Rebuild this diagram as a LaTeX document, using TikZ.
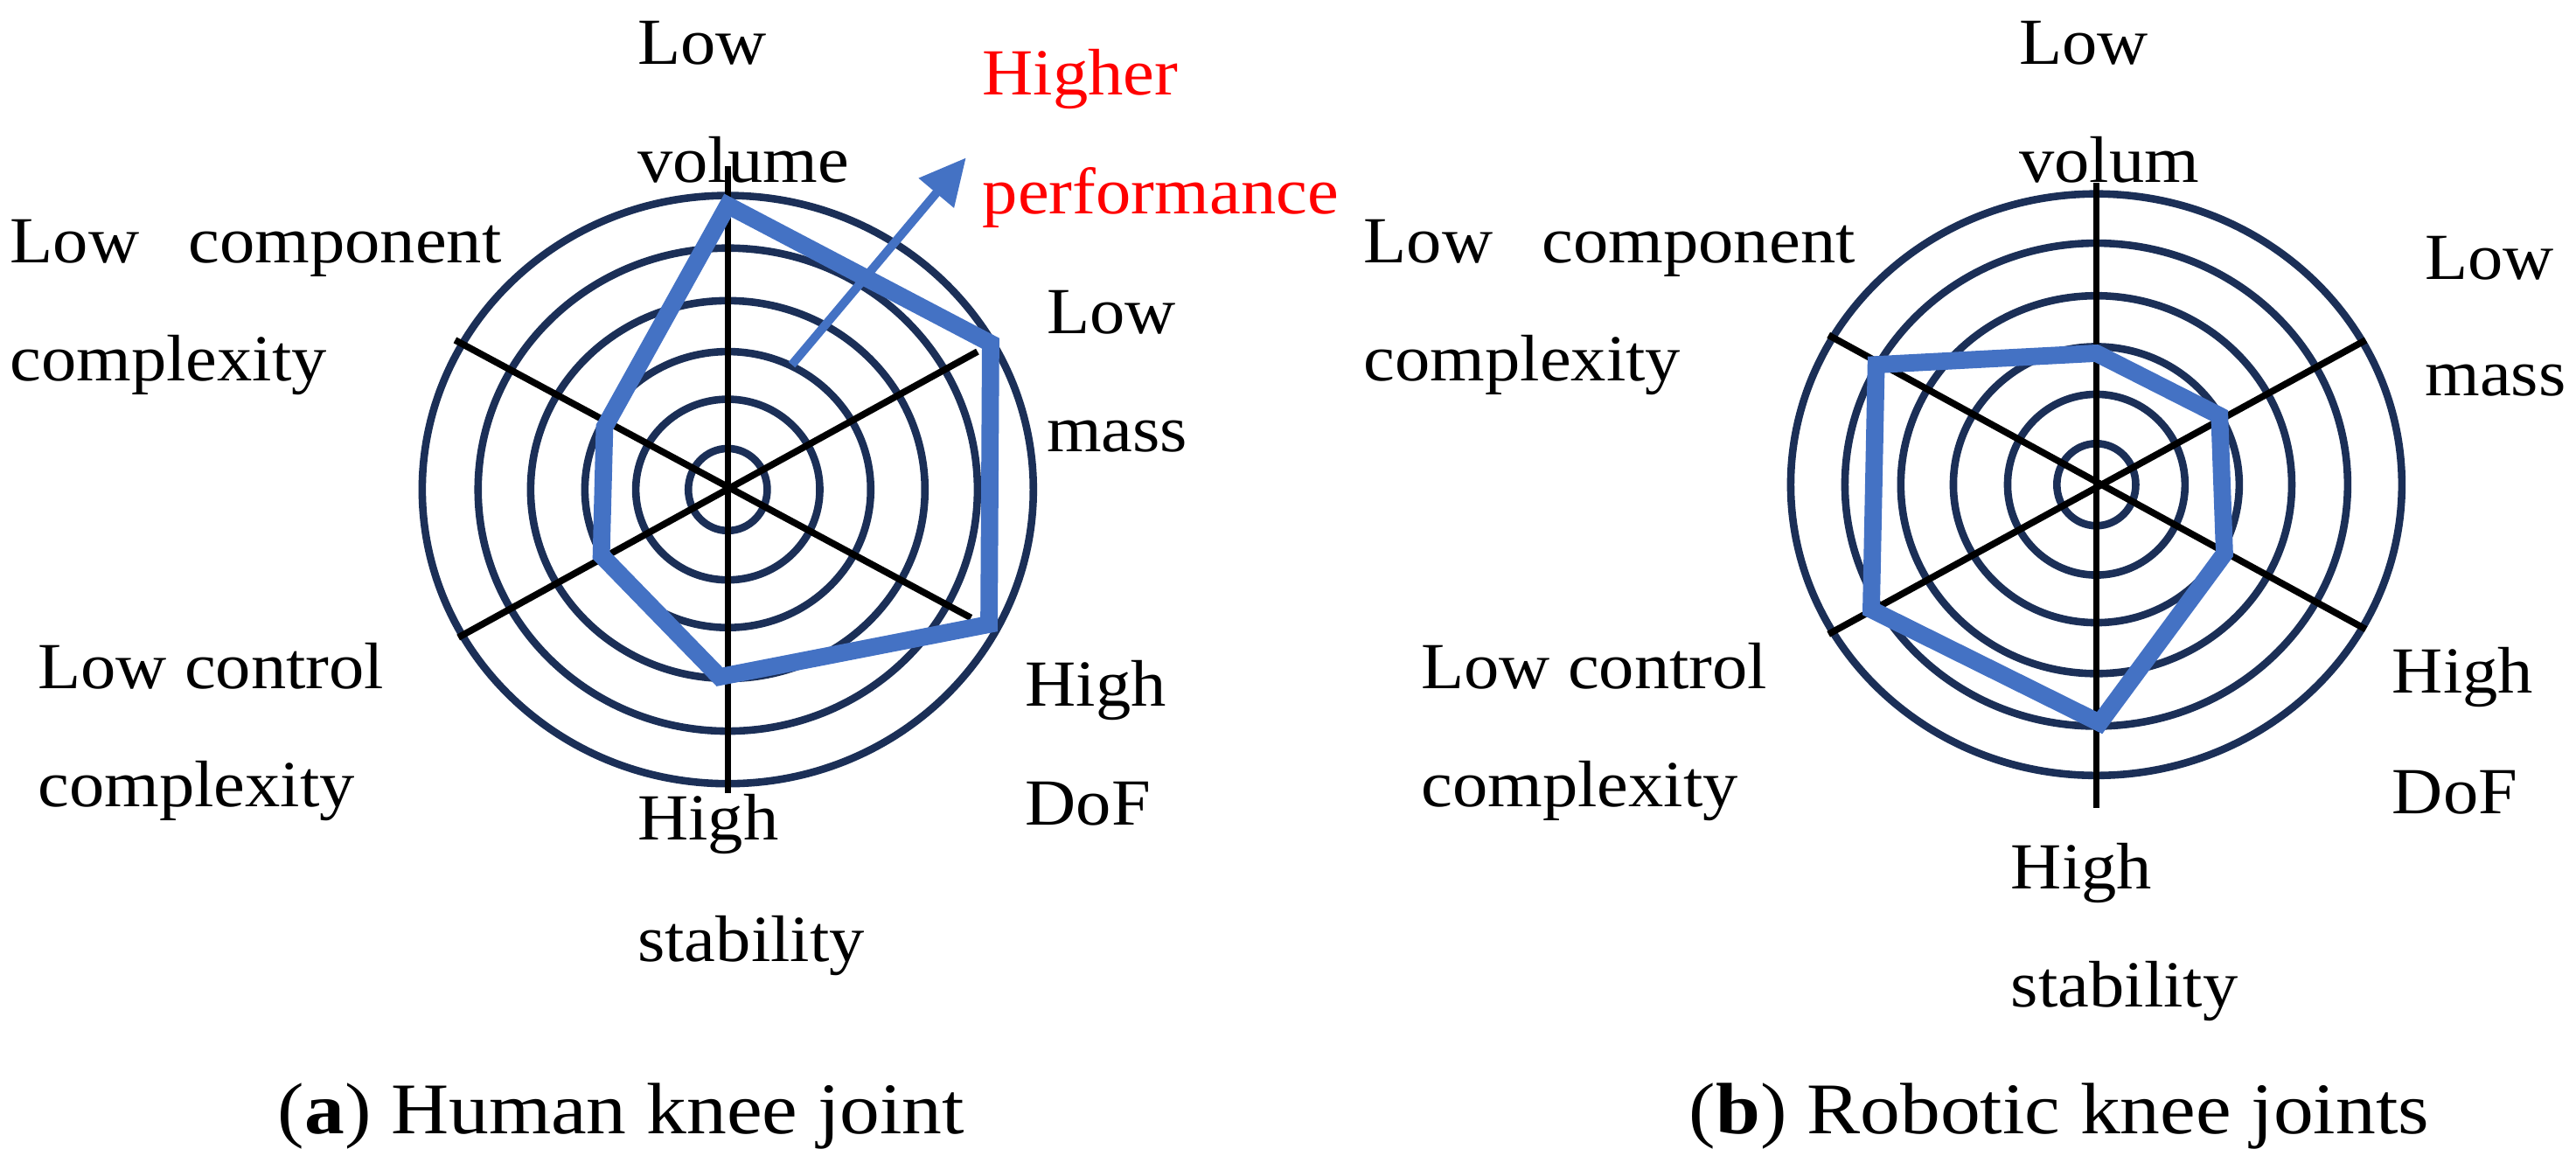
\documentclass[tikz,border=0pt]{standalone}
\usepackage{fontspec}
\setmainfont{Liberation Serif}[FakeStretch=1.07]
\newfontfamily\capfont{Liberation Serif}[FakeStretch=1.1]
\usetikzlibrary{arrows.meta}
\definecolor{ring}{HTML}{1B2F57}
\definecolor{poly}{HTML}{4472C4}
\begin{document}
\begin{tikzpicture}[x=0.05cm,y=-0.05cm,
  ringc/.style={draw=ring,line width=6.5pt},
  axis/.style={draw=black,line width=5.8pt},
  polyl/.style={draw=poly,line width=15pt,line join=miter},
  lbl/.style={anchor=base west,inner sep=0pt,font=\fontsize{57}{60}\selectfont},
  captxt/.style={anchor=base west,inner sep=0pt,font=\capfont\fontsize{63}{66}\selectfont},
  redtxt/.style={text=red}]
\useasboundingbox (0,0) rectangle (1568,712);
% ---------- left chart ----------
\begin{scope}[shift={(443,298)}]
  \foreach \a/\b in {24/25,56/55,87/84,120/115,152/147,186/179}
    \draw[ringc] (0,0) ellipse[x radius=\a,y radius=\b];
\end{scope}
\coordinate (lt) at (443,101); \coordinate (lb) at (443,483);
\coordinate (lul) at (277,207); \coordinate (ldr) at (591,376);
\coordinate (lll) at (279,388); \coordinate (lur) at (595,214);
\draw[axis] (lt) -- (lb);
\draw[axis] (lul) -- (ldr);
\draw[axis] (lll) -- (lur);
\draw[polyl] (443,125) -- (603,209) -- (602,380) -- (438,412) -- (366,338) -- (368,260) -- cycle;
\coordinate (as) at (482,222); \coordinate (ae) at (588,96);
\draw[poly,line width=7.5pt,-{Triangle[length=40pt,width=38pt]}] (as) -- (ae);
\node[lbl] (l1) at (388,39) {Low};
\node[lbl] (l2) at (388,111) {volume};
\node[lbl,redtxt] (l3) at (598,58) {Higher};
\node[lbl,redtxt] (l4) at (598,130) {performance};
\node[lbl] (l5) at (6,160) {Low\hspace{0.75em}component};
\node[lbl] (l6) at (6,232) {complexity};
\node[lbl] (l7) at (637,203) {Low};
\node[lbl] (l8) at (637,275) {mass};
\node[lbl] (l9) at (23,419) {Low control};
\node[lbl] (l10) at (23,491) {complexity};
\node[lbl] (l11) at (624,430) {High};
\node[lbl] (l12) at (624,502) {DoF};
\node[lbl] (l13) at (388,511) {High};
\node[lbl] (l14) at (388,585) {stability};
\node[captxt] (c1) at (169,690) {(\textbf{a}) Human knee joint};
% ---------- right chart ----------
\begin{scope}[shift={(1276,295)}]
  \foreach \a/\b in {24/25,54/55,87/84,119/115,153/147,186/177}
    \draw[ringc] (0,0) ellipse[x radius=\a,y radius=\b];
\end{scope}
\coordinate (rt) at (1276,111); \coordinate (rb) at (1276,492);
\coordinate (rul) at (1113,204); \coordinate (rdr) at (1440,383);
\coordinate (rll) at (1113,386); \coordinate (rur) at (1440,207);
\draw[axis] (rt) -- (rb);
\draw[axis] (rul) -- (rdr);
\draw[axis] (rll) -- (rur);
\draw[polyl] (1276,215) -- (1351,253) -- (1354,337) -- (1278,440) -- (1139,371) -- (1142,222) -- cycle;
\node[lbl] (r1) at (1229,39) {Low};
\node[lbl] (r2) at (1229,111) {volum};
\node[lbl] (r3) at (830,160) {Low\hspace{0.75em}component};
\node[lbl] (r4) at (830,232) {complexity};
\node[lbl] (r5) at (1476,170) {Low};
\node[lbl] (r6) at (1476,241) {mass};
\node[lbl] (r7) at (865,419) {Low control};
\node[lbl] (r8) at (865,491) {complexity};
\node[lbl] (r9) at (1456,422) {High};
\node[lbl] (r10) at (1456,495) {DoF};
\node[lbl] (r11) at (1224,541) {High};
\node[lbl] (r12) at (1224,613) {stability};
\node[captxt] (c2) at (1028,690) {(\textbf{b}) Robotic knee joints};
\end{tikzpicture}
\end{document}
